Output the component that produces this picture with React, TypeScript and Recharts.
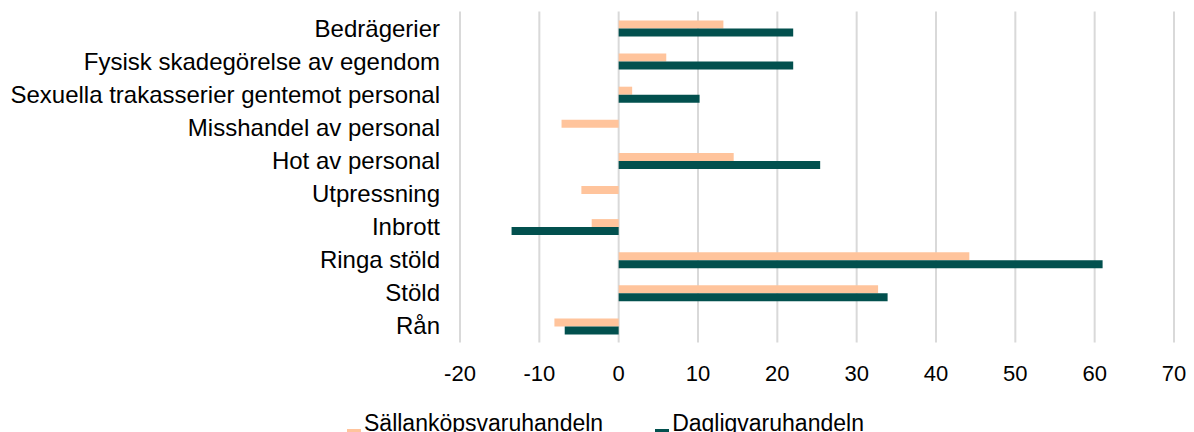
import { BarChart, Bar, XAxis, YAxis, CartesianGrid, Legend } from 'recharts'

const categories = [
  'Bedrägerier',
  'Fysisk skadegörelse av egendom',
  'Sexuella trakasserier gentemot personal',
  'Misshandel av personal',
  'Hot av personal',
  'Utpressning',
  'Inbrott',
  'Ringa stöld',
  'Stöld',
  'Rån'
]

const sallankop = [13.2, 6.0, 1.7, -7.2, 14.5, -4.7, -3.4, 44.2, 32.7, -8.1]
const dagligvaru = [22.0, 22.0, 10.2, 0, 25.4, 0, -13.5, 61.0, 33.9, -6.8]

const xTicks = [-20, -10, 0, 10, 20, 30, 40, 50, 60, 70]

const seriesOrder = ['sall', 'dagl']

const data = categories.map((name, i) => ({
  name,
  sall: sallankop[i],
  dagl: dagligvaru[i]
}))

const PEACH = '#FFC49C'
const TEAL = '#02504E'
const FONT = '"Liberation Sans", Arial, sans-serif'

function LegendContent({ payload }: any): JSX.Element {
  const items = [...(payload || [])].sort(
    (a: any, b: any) => seriesOrder.indexOf(a.dataKey) - seriesOrder.indexOf(b.dataKey)
  )
  return (
    <div style={{ display: 'flex', height: 27, fontFamily: FONT, fontSize: 23, color: '#000' }}>
      {items.map((p: any, i: number) => (
        <div
          key={p.value}
          style={{ display: 'flex', alignItems: 'flex-start', marginRight: i === 0 ? 52 : 0 }}
        >
          <span
            style={{
              display: 'inline-block',
              flex: '0 0 14px',
              width: 14,
              height: 14,
              marginTop: 23.9,
              marginRight: 3,
              background: p.color
            }}
          />
          <span style={{ lineHeight: '26px', marginTop: 5.1, whiteSpace: 'nowrap' }}>{p.value}</span>
        </div>
      ))}
    </div>
  )
}

function App(): JSX.Element {
  return (
    <div style={{ position: 'absolute', left: 0, top: 0, width: 1194, height: 432, overflow: 'hidden' }}>
      <BarChart
        width={1194}
        height={432}
        data={data}
        layout="vertical"
        barSize={8}
        barGap={0}
        margin={{ top: 11.5, right: 20, left: 0, bottom: 0 }}
        style={{ fontFamily: FONT }}
      >
        <CartesianGrid horizontal={false} stroke="#d9d9d9" strokeWidth={2} />
        <XAxis
          type="number"
          domain={[-20, 70]}
          ticks={xTicks}
          height={62.5}
          axisLine={false}
          tickLine={false}
          tickSize={0}
          tickMargin={22.5}
          tick={{ fontSize: 22, fill: '#000', fontFamily: FONT }}
        />
        <YAxis
          type="category"
          dataKey="name"
          width={460}
          interval={0}
          axisLine={false}
          tickLine={false}
          tickSize={0}
          tickMargin={20}
          tick={{ fontSize: 24, fill: '#000', fontFamily: FONT }}
        />
        <Legend
          verticalAlign="bottom"
          content={<LegendContent />}
          wrapperStyle={{ left: 347, top: 405, width: 'auto' }}
        />
        <Bar dataKey="sall" name="Sällanköpsvaruhandeln" fill={PEACH} isAnimationActive={false} />
        <Bar dataKey="dagl" name="Dagligvaruhandeln" fill={TEAL} isAnimationActive={false} />
      </BarChart>
    </div>
  )
}

export default App
